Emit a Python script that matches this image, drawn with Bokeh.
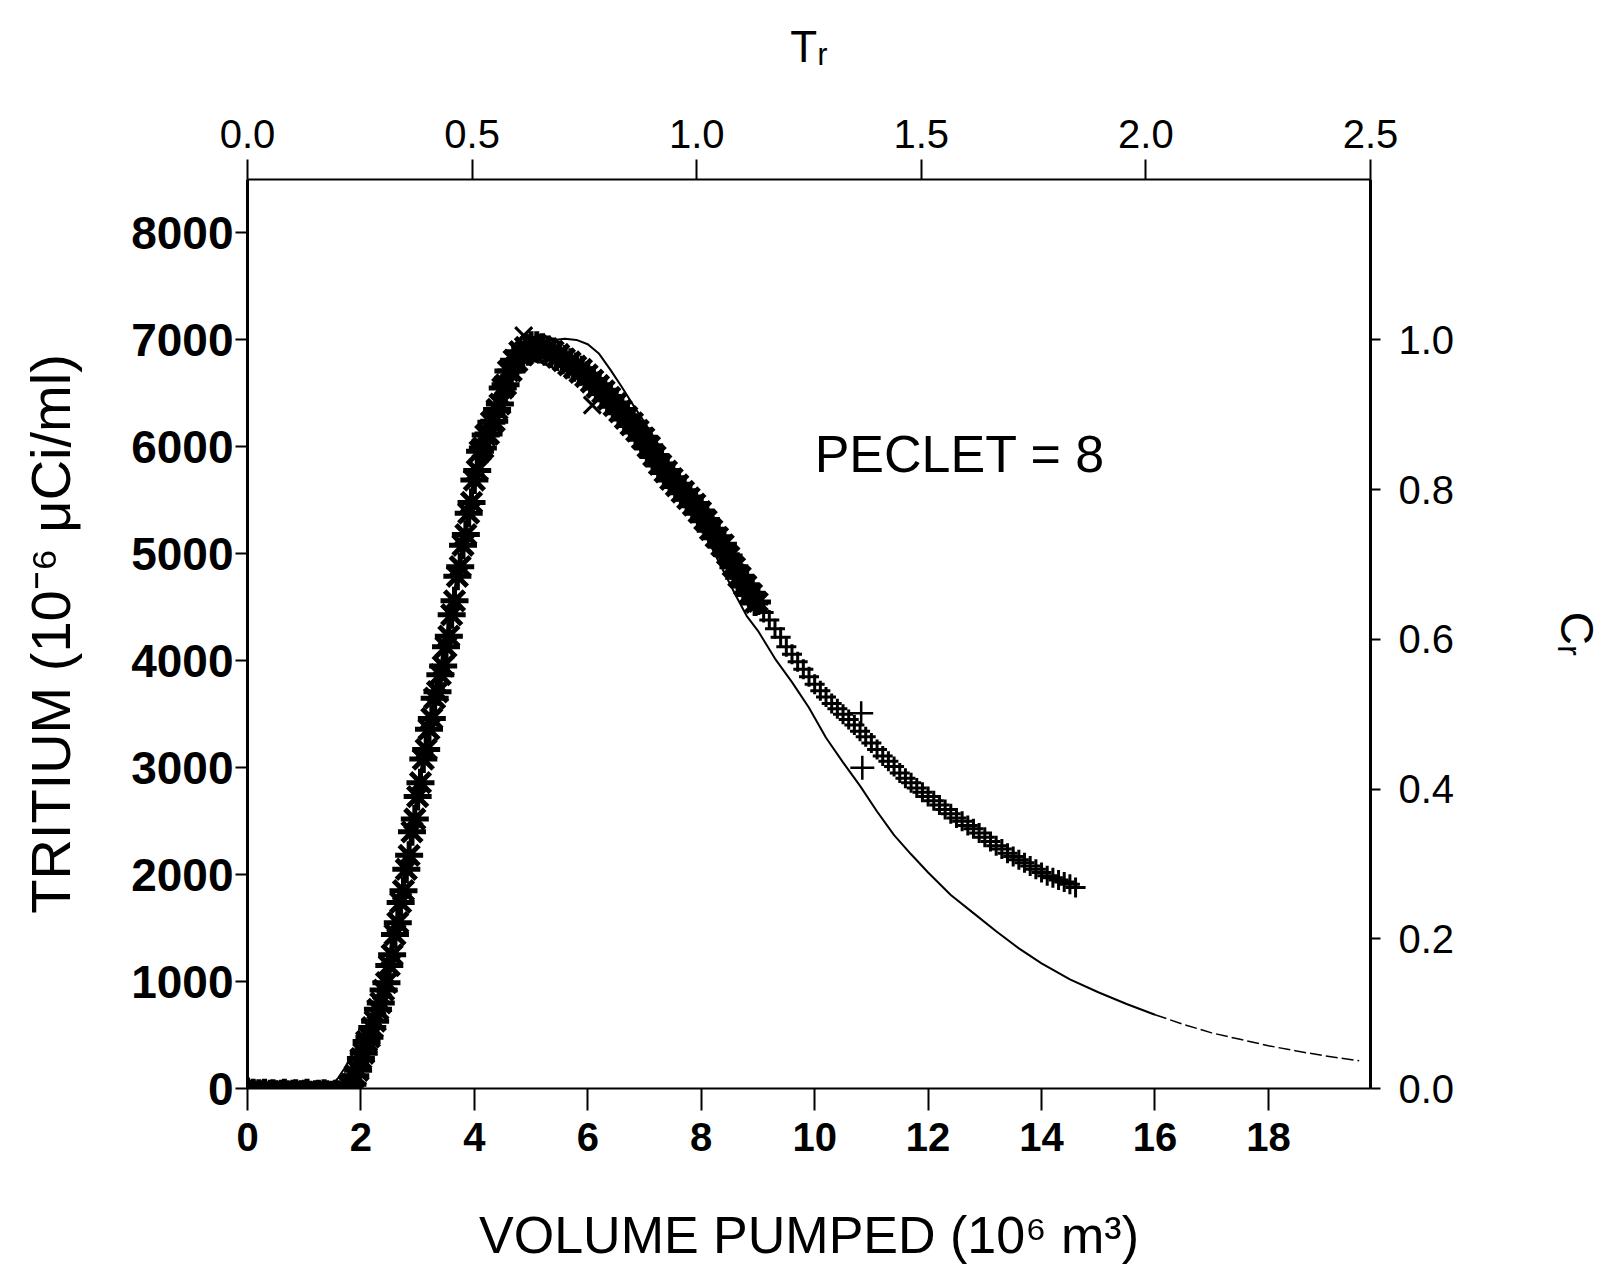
from bokeh.plotting import figure
from bokeh.models import Range1d, LinearAxis, FixedTicker, PrintfTickFormatter, Label
from bokeh.embed import file_html
from bokeh.resources import INLINE

# ---------------- data ----------------
# baseline before breakthrough
base_x = [0.0, 0.05, 0.1, 0.15, 0.2, 0.25, 0.3, 0.35, 0.4, 0.45, 0.5, 0.55, 0.6, 0.65, 0.7, 0.75,
          0.8, 0.85, 0.9, 0.95, 1.0, 1.05, 1.1, 1.15, 1.2, 1.25, 1.3, 1.35, 1.4, 1.45, 1.5, 1.55,
          1.6, 1.65, 1.7, 1.75]
base_y = [-10, -30, -20, -40, -25, -35, -20, -45, -30, -25, -35, -40, -30, -20, -35, -45,
          -30, -25, -40, -35, -30, -20, -40, -45, -35, -30, -40, -25, -35, -45, -40, -30,
          -35, -50, -40, -30]

# rising limb
rise_x = [1.80, 1.85, 1.90, 1.95, 2.00, 2.05, 2.10, 2.15, 2.20, 2.25, 2.30, 2.35, 2.40, 2.45,
          2.50, 2.55, 2.60, 2.65, 2.70, 2.75, 2.80, 2.85, 2.90, 2.95, 3.00, 3.05, 3.10, 3.15,
          3.20, 3.25, 3.30, 3.35, 3.40, 3.45, 3.50, 3.55, 3.60, 3.65, 3.70, 3.75, 3.80, 3.85,
          3.90, 3.95, 4.00, 4.05, 4.10, 4.15, 4.20, 4.25, 4.30, 4.35, 4.40, 4.45, 4.50, 4.55,
          4.60, 4.65, 4.70, 4.75, 4.80, 4.85, 4.90, 4.95, 5.00]
rise_y = [20, 40, 120, 170, 280, 330, 440, 480, 570, 630, 740, 800, 920, 990,
          1150, 1250, 1440, 1550, 1740, 1850, 2050, 2180, 2400, 2520, 2730, 2860, 3080, 3170,
          3360, 3460, 3650, 3710, 3870, 3950, 4130, 4230, 4430, 4560, 4790, 4880, 5080, 5180,
          5380, 5480, 5690, 5780, 5960, 5990, 6110, 6120, 6230, 6240, 6350, 6400, 6550, 6580,
          6710, 6710, 6810, 6800, 6890, 6860, 6930, 6890, 6950]

# peak and falling limb
fall_x = [5.05, 5.10, 5.15, 5.20, 5.25, 5.30, 5.35, 5.40, 5.45, 5.50, 5.55, 5.60, 5.65, 5.70,
          5.75, 5.80, 5.85, 5.90, 5.95, 6.00, 6.05, 6.10, 6.15, 6.20, 6.25, 6.30, 6.35, 6.40,
          6.45, 6.50, 6.55, 6.60, 6.65, 6.70, 6.75, 6.80, 6.85, 6.90, 6.95, 7.00, 7.05, 7.10,
          7.15, 7.20, 7.25, 7.30, 7.35, 7.40, 7.45, 7.50, 7.55, 7.60, 7.65, 7.70, 7.75, 7.80,
          7.85, 7.90, 7.95, 8.00, 8.05, 8.10, 8.15, 8.20, 8.25, 8.30, 8.35, 8.40, 8.45, 8.50,
          8.55, 8.60, 8.65, 8.70, 8.75, 8.80, 8.85, 8.90, 8.95, 9.00]
fall_y = [6910, 6960, 6900, 6940, 6880, 6920, 6860, 6900, 6830, 6870, 6800, 6830, 6760, 6800,
          6730, 6760, 6690, 6730, 6650, 6680, 6600, 6630, 6550, 6580, 6500, 6530, 6440, 6470,
          6380, 6410, 6320, 6350, 6260, 6290, 6200, 6230, 6140, 6160, 6070, 6090, 5990, 6010,
          5910, 5920, 5830, 5840, 5760, 5780, 5690, 5710, 5630, 5650, 5570, 5590, 5510, 5530,
          5450, 5470, 5380, 5400, 5310, 5320, 5220, 5230, 5150, 5160, 5070, 5090, 4990, 4980,
          4880, 4880, 4780, 4790, 4700, 4710, 4620, 4630, 4540, 4550]

# late tail (+ markers)
tail_x = [9.1, 9.2, 9.3, 9.4, 9.5, 9.6, 9.7, 9.8, 9.9,
          10.0, 10.1, 10.2, 10.3, 10.4, 10.5, 10.6, 10.7, 10.8, 10.9,
          11.0, 11.1, 11.2, 11.3, 11.4, 11.5, 11.6, 11.7, 11.8, 11.9,
          12.0, 12.1, 12.2, 12.3, 12.4, 12.5, 12.6, 12.7, 12.8, 12.9,
          13.0, 13.1, 13.2, 13.3, 13.4, 13.5, 13.6, 13.7, 13.8, 13.9,
          14.0, 14.1, 14.2, 14.3, 14.4, 14.5, 14.6]
tail_y = [4450, 4380, 4300, 4220, 4130, 4060, 3990, 3920, 3850,
          3780, 3720, 3660, 3600, 3550, 3500, 3450, 3400, 3340, 3290,
          3230, 3170, 3110, 3060, 3010, 2950, 2900, 2860, 2810, 2770,
          2730, 2690, 2650, 2610, 2570, 2530, 2500, 2460, 2430, 2390,
          2350, 2310, 2270, 2240, 2200, 2170, 2140, 2110, 2080, 2050,
          2020, 1990, 1970, 1950, 1930, 1910, 1880]

# isolated samples
stray_x_x = [4.87, 6.08]
stray_x_y = [7040, 6390]
stray_plus_x = [10.82, 10.84]
stray_plus_y = [3510, 3000]

# model curve (Peclet = 8)
model_x = [0.0, 1.0, 1.4, 1.5, 1.6, 1.7, 1.8, 1.9, 2.0, 2.2, 2.4, 2.6, 2.8, 3.0, 3.2, 3.4,
           3.6, 3.8, 4.0, 4.2, 4.4, 4.6, 4.8, 5.0, 5.2, 5.4, 5.6, 5.8, 6.0, 6.2, 6.4, 6.6,
           6.8, 7.0, 7.2, 7.4, 7.6, 7.8, 8.0, 8.2, 8.4, 8.6, 8.8, 9.0, 9.3, 9.6, 9.9, 10.2,
           10.5, 10.8, 11.1, 11.4, 11.7, 12.0, 12.4, 12.8, 13.2, 13.6, 14.0, 14.5, 15.0,
           15.5, 16.0]
model_y = [0, 0, 10, 40, 100, 180, 270, 370, 480, 720, 1040, 1500, 2120, 2800, 3430, 3950,
           4510, 5140, 5750, 6180, 6460, 6710, 6870, 6950, 6990, 7000, 7010, 7000, 6960, 6870,
           6720, 6560, 6390, 6230, 6060, 5870, 5670, 5460, 5250, 5040, 4830, 4620, 4420, 4280,
           4020, 3800, 3560, 3280, 3050, 2830, 2590, 2370, 2190, 2020, 1810, 1640, 1470, 1310,
           1170, 1020, 900, 790, 690]
# faint end of the model curve
model_end_x = [16.0, 16.5, 17.0, 17.5, 18.0, 18.5, 19.0, 19.6]
model_end_y = [690, 600, 520, 460, 400, 350, 305, 260]

# axes
x_ticks = [0, 2, 4, 6, 8, 10, 12, 14, 16, 18]
y_ticks = [0, 1000, 2000, 3000, 4000, 5000, 6000, 7000, 8000]
tr_ticks = [0.0, 0.5, 1.0, 1.5, 2.0, 2.5]
cr_ticks = [0.0, 0.2, 0.4, 0.6, 0.8, 1.0]
X_MAX = 19.8
Y_MAX = 8500
TR_MAX = 2.5
C_REF = 7000  # tritium value for Cr = 1.0

FONT = "Liberation Sans"

p = figure(frame_width=1123, frame_height=909,
           x_range=Range1d(0, X_MAX), y_range=Range1d(0, Y_MAX),
           output_backend="svg", toolbar_location=None,
           min_border_left=247, min_border_right=212,
           min_border_top=179, min_border_bottom=185,
           background_fill_color="white", border_fill_color="white")
p.grid.visible = False
p.outline_line_color = None

p.extra_x_ranges = {"tr": Range1d(0, TR_MAX)}
p.extra_y_ranges = {"cr": Range1d(0, Y_MAX / C_REF)}

bottom = p.below[0]
left = p.left[0]
top = LinearAxis(x_range_name="tr")
right = LinearAxis(y_range_name="cr")
p.add_layout(top, "above")
p.add_layout(right, "right")

def style(ax, ticks, fmt, tick_out, lw, label_size, label_bold, standoff,
          title, title_size, title_standoff):
    ax.ticker = FixedTicker(ticks=ticks)
    ax.formatter = PrintfTickFormatter(format=fmt)
    ax.axis_line_color = "black"
    ax.axis_line_width = lw
    ax.major_tick_line_color = "black"
    ax.major_tick_line_width = 2
    ax.major_tick_out = tick_out
    ax.major_tick_in = 0
    ax.minor_tick_line_color = None
    ax.major_label_text_font = FONT
    ax.major_label_text_font_size = label_size
    ax.major_label_text_font_style = "bold" if label_bold else "normal"
    ax.major_label_text_color = "black"
    ax.major_label_standoff = standoff
    ax.axis_label = title
    ax.axis_label_text_font = FONT
    ax.axis_label_text_font_size = title_size
    ax.axis_label_text_font_style = "normal"
    ax.axis_label_text_color = "black"
    ax.axis_label_standoff = title_standoff

style(bottom, x_ticks, "%d", 22, 2, "40px", True, 12,
      "VOLUME PUMPED (10⁶ m³)", "52px", 52)
style(left, y_ticks, "%d", 12, 3, "46px", True, 2,
      "TRITIUM (10⁻⁶ μCi/ml)", "56px", 46)
style(top, tr_ticks, "%.1f", 20, 2, "40px", False, 12,
      "Tᵣ", "44px", 46)
style(right, cr_ticks, "%.1f", 10, 3, "40px", False, 18,
      "Cᵣ", "46px", 94)

# model curve
p.line(model_x, model_y, line_color="black", line_width=2)
p.line(model_end_x, model_end_y, line_color="black", line_width=1.5, line_dash="12 4")

# data
MK = dict(line_color="black", line_width=5)
p.scatter(base_x, base_y, marker="asterisk", size=24, **MK)
p.scatter(rise_x, rise_y, marker="asterisk", size=28, **MK)
p.scatter(fall_x, fall_y, marker="asterisk", size=26, **MK)
p.scatter(stray_x_x, stray_x_y, marker="x", size=24, line_color="black", line_width=3)
p.scatter(tail_x, tail_y, marker="cross", size=20, line_color="black", line_width=3)
p.scatter(stray_plus_x, stray_plus_y, marker="cross", size=24, line_color="black", line_width=2.5)

p.add_layout(Label(x=10.0, y=5930, text="PECLET = 8", text_font=FONT,
                   text_font_size="52px", text_color="black", text_baseline="alphabetic"))

open("out.html", "w").write(file_html(p, INLINE))
